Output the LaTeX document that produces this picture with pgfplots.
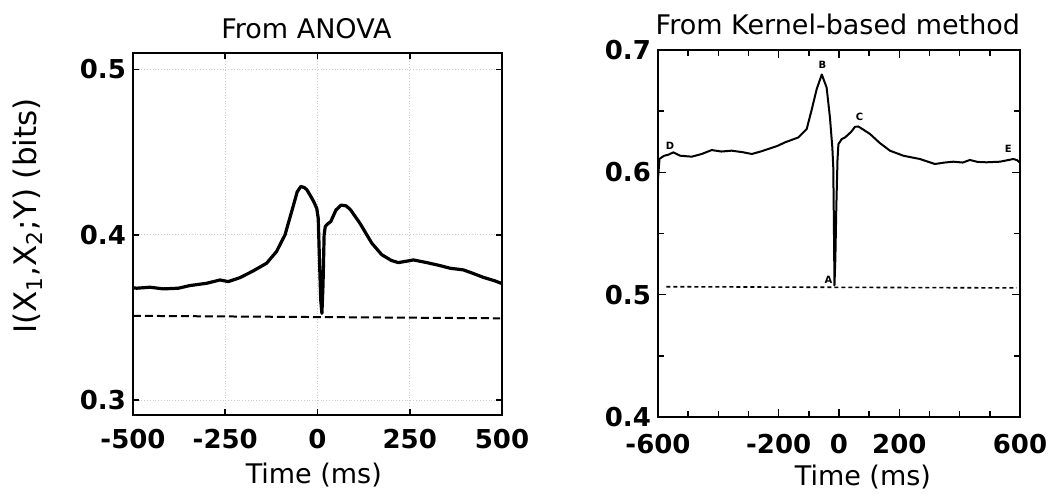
\documentclass[border=0pt]{standalone}
\usepackage{pgfplots}
\pgfplotsset{compat=1.18}
\usepackage{fontspec}
\setmainfont{DejaVu Sans}
\newcommand\tickfont{\fontsize{13}{14}\selectfont\bfseries}
\newcommand\labfont{\fontsize{13.5}{15}\selectfont}
\newcommand\ylabfont{\fontsize{15.5}{16}\selectfont}
\newcommand\tinyfont{\fontsize{5}{5}\selectfont\bfseries}

\begin{document}
\begin{tikzpicture}
\begin{axis}[
  at={(0pt,0pt)}, anchor=south west,
  scale only axis, width=184.5pt, height=181pt,
  xmin=-500, xmax=500, ymin=0.291, ymax=0.510,
  xtick={-500,-250,0,250,500}, xticklabels={-500,-250,0,250,500},
  ytick={0.3,0.4,0.5}, yticklabels={0.3,0.4,0.5},
  tick align=inside, major tick length=3pt,
  tick style={black, line width=0.8pt},
  axis line style={line width=1.2pt},
  ticklabel style={font=\tickfont},
  xticklabel style={anchor=center, yshift=-12pt},
  grid=major, grid style={gray!40, densely dotted, line width=0.4pt},
  title={From ANOVA},
  title style={font=\labfont, at={(axis description cs:0.47,1)}, anchor=base, yshift=1pt},
  xlabel={Time (ms)},
  xlabel style={font=\labfont, at={(axis description cs:0.49,-0.166)}, anchor=center},
  ylabel={I(X\textsubscript{1},X\textsubscript{2};Y) (bits)},
  ylabel style={font=\ylabfont, at={(axis description cs:-0.285,0.55)}, anchor=center},
]
\addplot[black, line width=1.6pt, line join=round] coordinates {
(-500,0.3680) (-490,0.3677) (-454,0.3683) (-418,0.3673) (-377,0.3677)
(-346,0.3693) (-300,0.3707) (-264,0.3727) (-242,0.3717) (-210,0.3741)
(-174,0.3782) (-138,0.3828) (-111,0.3899) (-88,0.4000) (-66,0.4172)
(-55,0.4260) (-45,0.4293) (-35,0.4285) (-29,0.4273) (-20,0.4240)
(-10,0.4200) (-2,0.4160) (2,0.4100) (6,0.3800) (9,0.3600) (12,0.3525)
(15,0.3700) (18,0.4000) (21,0.4050) (27,0.4065) (36,0.4080) (50,0.4150)
(64,0.4180) (78,0.4175) (90,0.4150) (115,0.4070) (147,0.3950) (174,0.3880)
(200,0.3845) (219,0.3832) (240,0.3840) (260,0.3848) (296,0.3832)
(330,0.3815) (359,0.3798) (395,0.3788) (420,0.3768) (449,0.3743)
(480,0.3722) (500,0.3705)
};
\addplot[black, line width=1pt, dash pattern=on 4pt off 2pt] coordinates {
(-500,0.3510) (495,0.3495)
};
\end{axis}

\begin{axis}[
  at={(262.5pt,-1pt)}, anchor=south west,
  scale only axis, width=181pt, height=183.5pt,
  xmin=-600, xmax=600, ymin=0.4, ymax=0.7,
  xtick={-600,-200,0,200,600}, xticklabels={-600,-200,0,200,600},
  minor xtick={-500,-400,-300,-100,100,300,400,500},
  ytick={0.4,0.5,0.6,0.7}, yticklabels={0.4,0.5,0.6,0.7},
  minor ytick={0.45,0.55,0.65},
  tick align=inside, major tick length=4pt, minor tick length=3pt,
  tick style={black, line width=0.8pt},
  axis line style={line width=1pt},
  ticklabel style={font=\tickfont},
  xticklabel style={anchor=center, yshift=-13.5pt},
  title={From Kernel-based method},
  title style={font=\labfont, at={(axis description cs:0.497,1)}, anchor=base, yshift=1.5pt},
  xlabel={Time (ms)},
  xlabel style={font=\labfont, at={(axis description cs:0.566,-0.163)}, anchor=center},
]
\addplot[black, line width=1pt, line join=round] coordinates {
(-600,0.5950) (-595,0.6110) (-580,0.6135) (-566,0.6144) (-549,0.6163)
(-527,0.6136) (-488,0.6128) (-455,0.6150) (-422,0.6182) (-390,0.6170)
(-356,0.6177) (-320,0.6165) (-289,0.6150) (-260,0.6170) (-234,0.6191)
(-205,0.6215) (-179,0.6245) (-135,0.6285) (-107,0.6354) (-90,0.6517)
(-74,0.6680) (-57,0.6800) (-41,0.6693) (-30,0.6448) (-22,0.6200)
(-19,0.6040) (-17,0.5600) (-15,0.5075) (-12,0.5300) (-9,0.5700)
(-5,0.6100) (-2,0.6230) (9,0.6272) (20,0.6285) (40,0.6330) (53,0.6372)
(64,0.6375) (80,0.6350) (103,0.6313) (135,0.6240) (169,0.6177)
(213,0.6136) (268,0.6109) (318,0.6068) (350,0.6080) (379,0.6087)
(410,0.6080) (434,0.6101) (460,0.6085) (489,0.6082) (534,0.6087)
(560,0.6100) (578,0.6109) (590,0.6100) (598,0.6082)
};
\addplot[black, line width=0.8pt, dash pattern=on 2pt off 1.5pt] coordinates {
(-572,0.5065) (589,0.5055)
};
\node[font=\tinyfont] at (axis cs:-560,0.622) {D};
\node[font=\tinyfont] at (axis cs:-55,0.688) {B};
\node[font=\tinyfont] at (axis cs:-35,0.5117) {A};
\node[font=\tinyfont] at (axis cs:68,0.645) {C};
\node[font=\tinyfont] at (axis cs:561,0.619) {E};
\end{axis}
\pgfresetboundingbox
\path (-66.5pt,-41.5pt) rectangle (459pt,207.5pt);
\end{tikzpicture}
\end{document}
